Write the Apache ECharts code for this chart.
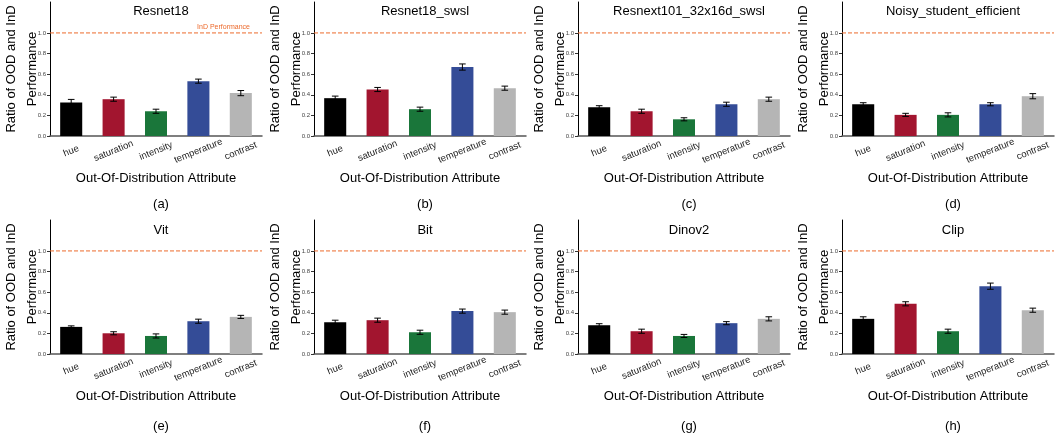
<!DOCTYPE html>
<html>
<head>
<meta charset="utf-8">
<script src="https://cdn.jsdelivr.net/npm/echarts@6/dist/echarts.min.js"></script>
<style>
html,body{margin:0;padding:0;background:#fff;}
#c{width:1056px;height:435px;}
</style>
</head>
<body>
<div id="c"></div>
<script>
const categories = ['hue', 'saturation', 'intensity', 'temperature', 'contrast'];
const models = ['Resnet18', 'Resnet18_swsl', 'Resnext101_32x16d_swsl', 'Noisy_student_efficient', 'Vit', 'Bit', 'Dinov2', 'Clip'];
const panelLabels = ['(a)', '(b)', '(c)', '(d)', '(e)', '(f)', '(g)', '(h)'];
const yTicks = [0.0, 0.2, 0.4, 0.6, 0.8, 1.0];

const resnet18 = [0.325, 0.357, 0.240, 0.532, 0.416];
const resnet18Err = [0.030, 0.020, 0.020, 0.020, 0.025];
const resnet18Swsl = [0.367, 0.451, 0.260, 0.669, 0.464];
const resnet18SwslErr = [0.020, 0.020, 0.020, 0.030, 0.020];
const resnext101Swsl = [0.279, 0.240, 0.162, 0.308, 0.357];
const resnext101SwslErr = [0.015, 0.020, 0.015, 0.020, 0.020];
const noisyStudent = [0.308, 0.205, 0.205, 0.308, 0.386];
const noisyStudentErr = [0.015, 0.015, 0.020, 0.015, 0.025];
const vit = [0.263, 0.201, 0.175, 0.318, 0.360];
const vitErr = [0.010, 0.015, 0.020, 0.020, 0.015];
const bit = [0.308, 0.328, 0.211, 0.416, 0.406];
const bitErr = [0.020, 0.020, 0.020, 0.020, 0.020];
const dinov2 = [0.279, 0.221, 0.175, 0.299, 0.341];
const dinov2Err = [0.015, 0.020, 0.015, 0.015, 0.020];
const clip = [0.341, 0.487, 0.221, 0.658, 0.425];
const clipErr = [0.020, 0.020, 0.020, 0.030, 0.020];

const inDValue = 1.0;
const inDLabel = 'InD Performance';
const barColors = ['#000000', '#A2152F', '#1A763A', '#344C97', '#B5B5B5'];

const allValues = [resnet18, resnet18Swsl, resnext101Swsl, noisyStudent, vit, bit, dinov2, clip];
const allErrors = [resnet18Err, resnet18SwslErr, resnext101SwslErr, noisyStudentErr, vitErr, bitErr, dinov2Err, clipErr];

const FONT = '"Liberation Sans", Arial, Helvetica, sans-serif';
const orange = '#EC6A2C';

const grids = [], xAxes = [], yAxes = [], series = [], titles = [];
for (let i = 0; i < 8; i++) {
  const col = i % 4, row = Math.floor(i / 4);
  const left = 50 + col * 264;
  const top = row === 0 ? 2 : 220;
  const cx = left + 106;
  grids.push({ left: left, top: top, width: 212, height: 134, containLabel: false, outerBoundsMode: 'none' });
  xAxes.push({
    type: 'category', gridIndex: i, data: categories,
    name: 'Out-Of-Distribution Attribute', nameLocation: 'middle', nameGap: 36, nameMoveOverlap: false,
    nameTextStyle: { fontFamily: FONT, fontSize: 13, color: '#000' },
    axisLine: { lineStyle: { color: '#555', width: 1.5 } },
    axisTick: { alignWithLabel: true, length: 3, lineStyle: { color: '#333' } },
    axisLabel: { rotate: 22, align: 'center', verticalAlign: 'middle', margin: 15,
      fontFamily: FONT, fontSize: 9.5, color: '#222' },
    splitLine: { show: false }
  });
  yAxes.push({
    type: 'value', gridIndex: i, min: 0, max: 1.3,
    name: 'Ratio of OOD and InD\nPerformance', nameLocation: 'middle', nameGap: 7, nameMoveOverlap: false,
    nameTextStyle: { fontFamily: FONT, fontSize: 13, color: '#000', lineHeight: 21 },
    axisLine: { show: true, lineStyle: { color: '#000', width: 1 } },
    axisTick: { show: true, length: 3, customValues: yTicks, lineStyle: { color: '#333' } },
    axisLabel: { customValues: yTicks, fontFamily: FONT, fontSize: 6, color: '#444', margin: 4,
      formatter: v => v.toFixed(1) },
    splitLine: { show: false }
  });
  titles.push({ text: models[i], left: cx, top: row === 0 ? 0 : 219, textAlign: 'center',
    textStyle: { fontFamily: FONT, fontSize: 13, fontWeight: 'normal', color: '#000' } });
  titles.push({ text: panelLabels[i], left: cx, top: row === 0 ? 193 : 415, textAlign: 'center',
    textStyle: { fontFamily: FONT, fontSize: 13, fontWeight: 'normal', color: '#000' } });

  series.push({
    type: 'bar', xAxisIndex: i, yAxisIndex: i, barWidth: '52%',
    data: allValues[i].map((v, j) => ({ value: v, itemStyle: { color: barColors[j] } }))
  });
  const showLabel = i === 0;
  series.push({
    type: 'custom', xAxisIndex: i, yAxisIndex: i, z: 5, silent: true,
    data: [[0, inDValue]],
    renderItem: function (params, api) {
      const cs = params.coordSys;
      const y = api.coord([0, api.value(1)])[1];
      const children = [{ type: 'line',
        shape: { x1: cs.x, y1: y, x2: cs.x + cs.width, y2: y },
        style: { stroke: orange, lineWidth: 1, lineDash: [4, 2] } }];
      if (showLabel) {
        children.push({ type: 'text', x: cs.x + cs.width - 12, y: y - 2,
          style: { text: inDLabel, fill: orange, font: '7px ' + FONT, textAlign: 'right', textVerticalAlign: 'bottom' } });
      }
      return { type: 'group', children: children };
    }
  });
  series.push({
    type: 'custom', xAxisIndex: i, yAxisIndex: i, z: 10,
    data: allValues[i].map((v, j) => [j, v, allErrors[i][j]]),
    renderItem: function (params, api) {
      const x = api.value(0), v = api.value(1), e = api.value(2);
      const hi = api.coord([x, v + e]);
      const lo = api.coord([x, v - e]);
      const hw = 3.3;
      const st = { stroke: '#000', lineWidth: 1 };
      return { type: 'group', children: [
        { type: 'line', shape: { x1: hi[0], y1: hi[1], x2: lo[0], y2: lo[1] }, style: st },
        { type: 'line', shape: { x1: hi[0] - hw, y1: hi[1], x2: hi[0] + hw, y2: hi[1] }, style: st },
        { type: 'line', shape: { x1: lo[0] - hw, y1: lo[1], x2: lo[0] + hw, y2: lo[1] }, style: st }
      ] };
    }
  });
}

const chart = echarts.init(document.getElementById('c'), null, { renderer: 'canvas' });
chart.setOption({
  animation: false,
  backgroundColor: '#fff',
  title: titles,
  grid: grids,
  xAxis: xAxes,
  yAxis: yAxes,
  series: series
});
</script>
</body>
</html>
